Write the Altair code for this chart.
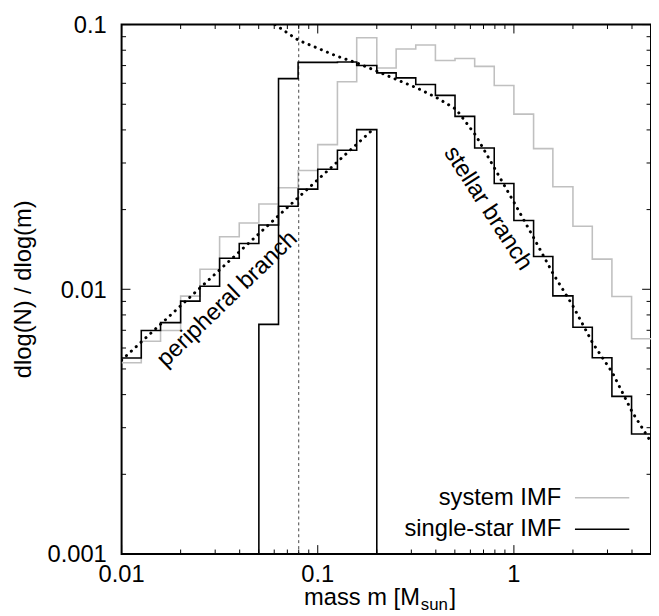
import altair as alt
import pandas as pd

# ---------------- data ----------------
# histogram bin edges in solar masses (0.1 dex bins)
bin_edges = [0.01, 0.0126, 0.0158, 0.02, 0.0251, 0.0316, 0.0398, 0.0501, 0.0631, 0.0794,
             0.1, 0.126, 0.158, 0.2, 0.251, 0.316, 0.398, 0.501, 0.631, 0.794,
             1.0, 1.26, 1.58, 2.0, 2.51, 3.16, 3.98, 5.01]

# system IMF (grey), 27 bins starting at 0.01
system_imf = [0.00528, 0.00636, 0.00699, 0.00942, 0.0119, 0.0158, 0.0178, 0.0210, 0.0242,
              0.0281, 0.0352, 0.0608, 0.0892, 0.0685, 0.0809, 0.0837, 0.0732, 0.0745,
              0.0695, 0.0589, 0.0459, 0.0340, 0.0244, 0.0173, 0.0130, 0.00939, 0.00650]

# single-star IMF, peripheral (brown-dwarf) part: 13 bins from 0.01 to 0.2
single_peripheral = [0.00550, 0.00699, 0.00748, 0.00902, 0.01026, 0.0131, 0.0149, 0.0175,
                     0.0206, 0.0239, 0.0284, 0.0335, 0.0401]
peripheral_first_edge = 0  # index into bin_edges

# single-star IMF, stellar part: 20 bins from 0.05 to 5
single_stellar = [0.00737, 0.0625, 0.0720, 0.0720, 0.0722, 0.0701, 0.0657, 0.0629, 0.0594,
                  0.0540, 0.0450, 0.0342, 0.0251, 0.0182, 0.0133, 0.00944, 0.00719,
                  0.00551, 0.00394, 0.00284]
stellar_first_edge = 7

# dotted analytic branches
stellar_fit_m = [0.0605, 0.0794, 0.124, 0.159, 0.201, 0.253, 0.319, 0.403, 0.507, 0.640,
                 0.798, 1.005, 1.259, 1.585, 2.0, 2.52, 3.18, 4.01, 5.0]
stellar_fit_v = [0.100, 0.0874, 0.0762, 0.0715, 0.0666, 0.0619, 0.0577, 0.0530, 0.0479,
                 0.0381, 0.0286, 0.0212, 0.0157, 0.01145, 0.00865, 0.00627, 0.00484,
                 0.00344, 0.00265]
peripheral_fit_m = [0.01, 0.08, 0.19]
peripheral_fit_v = [0.0054, 0.0223, 0.0400]

hydrogen_burning_limit = [0.08]

x_major = [0.01, 0.1, 1]
x_major_labels = ["0.01", "0.1", "1"]
x_minor = [0.02, 0.03, 0.04, 0.05, 0.06, 0.07, 0.08, 0.09,
           0.2, 0.3, 0.4, 0.5, 0.6, 0.7, 0.8, 0.9, 2, 3, 4]
y_major = [0.001, 0.01, 0.1]
y_major_labels = ["0.001", "0.01", "0.1"]
y_minor = [0.002, 0.003, 0.004, 0.005, 0.006, 0.007, 0.008, 0.009,
           0.02, 0.03, 0.04, 0.05, 0.06, 0.07, 0.08, 0.09]

labels = ["peripheral branch", "stellar branch"]
label_m = [0.0346, 0.738]
label_v = [0.00918, 0.0202]
label_angle = [316, 57]

FLOOR = 0.0005  # below the visible range, used for vertical drops (clipped)

# ---------------- build tables ----------------
def step_rows(edges, vals, first, name, start_floor=False, end_floor=False):
    rows = []
    if start_floor:
        rows.append((edges[first], FLOOR))
    for i, v in enumerate(vals):
        rows.append((edges[first + i], v))
        rows.append((edges[first + i + 1], v))
    if end_floor:
        rows.append((edges[first + len(vals)], FLOOR))
    return pd.DataFrame([{"m": m, "v": v, "series": name, "o": k} for k, (m, v) in enumerate(rows)])

sys_df = step_rows(bin_edges, system_imf, 0, "system")
single_df = pd.concat([
    step_rows(bin_edges, single_peripheral, peripheral_first_edge, "peripheral", end_floor=True),
    step_rows(bin_edges, single_stellar, stellar_first_edge, "stellar", start_floor=True),
])
fit_df = pd.concat([
    pd.DataFrame({"m": stellar_fit_m, "v": stellar_fit_v, "series": "stellar",
                  "o": range(len(stellar_fit_m))}),
    pd.DataFrame({"m": peripheral_fit_m, "v": peripheral_fit_v, "series": "peripheral",
                  "o": range(len(peripheral_fit_m))}),
])
lab_df = pd.DataFrame({"m": label_m, "v": label_v, "t": labels, "a": label_angle})

W = 536
H = 536
FONT = "Liberation Sans"
FS = 24
GREY = "#c0c0c0"

xs = alt.Scale(type="log", domain=[0.01, 5], nice=False)
ys = alt.Scale(type="log", domain=[0.001, 0.1], nice=False)

def X(field="m"):
    return alt.X(f"{field}:Q", scale=xs, axis=None)

def Y(field="v"):
    return alt.Y(f"{field}:Q", scale=ys, axis=None)

one = pd.DataFrame({"k": [0]})

system_line = alt.Chart(sys_df).mark_line(color=GREY, strokeWidth=1.6, clip=True).encode(
    x=X(), y=Y(), order="o:Q")

single_line = alt.Chart(single_df).mark_line(color="black", strokeWidth=1.6, clip=True).encode(
    x=X(), y=Y(), detail="series:N", order="o:Q")

fit_line = alt.Chart(fit_df).mark_line(color="black", strokeWidth=3, strokeDash=[0.1, 6.6],
                                       strokeCap="round", clip=True).encode(
    x=X(), y=Y(), detail="series:N", order="o:Q")

hbl = alt.Chart(pd.DataFrame({"m": hydrogen_burning_limit})).mark_rule(
    color="#444444", strokeWidth=1, strokeDash=[3, 3]).encode(x=X())

branch_text = alt.Chart(lab_df).mark_text(font=FONT, fontSize=FS, color="black",
                                          align="center", baseline="middle").encode(
    x=X(), y=Y(), text="t:N", angle=alt.Angle("a:Q", scale=None))

def xticks(vals, length):
    d = pd.DataFrame({"m": vals})
    bottom = alt.Chart(d).mark_rule(color="black", strokeWidth=1).encode(
        x=X(), y=alt.value(H), y2=alt.value(H - length))
    top = alt.Chart(d).mark_rule(color="black", strokeWidth=1).encode(
        x=X(), y=alt.value(0), y2=alt.value(length))
    return [bottom, top]

def yticks(vals, length):
    d = pd.DataFrame({"v": vals})
    left = alt.Chart(d).mark_rule(color="black", strokeWidth=1).encode(
        y=Y(), x=alt.value(0), x2=alt.value(length))
    right = alt.Chart(d).mark_rule(color="black", strokeWidth=1).encode(
        y=Y(), x=alt.value(W), x2=alt.value(W - length))
    return [left, right]

tick_layers = xticks(x_major, 9) + xticks(x_minor, 4.5) + yticks(y_major, 9) + yticks(y_minor, 4.5)

# tick labels
xlab = alt.Chart(pd.DataFrame({"m": x_major, "t": x_major_labels})).mark_text(
    font=FONT, fontSize=FS, color="black", align="center", baseline="alphabetic").encode(
    x=X(), y=alt.value(H + 28), text="t:N")
ylab = alt.Chart(pd.DataFrame({"v": y_major, "t": y_major_labels})).mark_text(
    font=FONT, fontSize=FS, color="black", align="right", baseline="alphabetic", dy=8.5).encode(
    y=Y(), x=alt.value(-15), text="t:N")

# legend (label left, sample line right, as in the reference)
leg_sys_t = alt.Chart(one).mark_text(text="system IMF", font=FONT, fontSize=FS, align="right",
                                     baseline="middle", color="black").encode(
    x=alt.value(445), y=alt.value(479))
leg_sys_l = alt.Chart(one).mark_rule(color=GREY, strokeWidth=1.6).encode(
    x=alt.value(459), x2=alt.value(514), y=alt.value(479))
leg_one_t = alt.Chart(one).mark_text(text="single-star IMF", font=FONT, fontSize=FS, align="right",
                                     baseline="middle", color="black").encode(
    x=alt.value(445), y=alt.value(511))
leg_one_l = alt.Chart(one).mark_rule(color="black", strokeWidth=1.6).encode(
    x=alt.value(459), x2=alt.value(514), y=alt.value(511))

# axis titles
ytitle = alt.Chart(one).mark_text(text="dlog(N) / dlog(m)", font=FONT, fontSize=FS, angle=270,
                                  align="center", baseline="middle", color="black").encode(
    x=alt.value(-99), y=alt.value(H / 2))
xt1 = alt.Chart(one).mark_text(text="mass m [M", font=FONT, fontSize=FS, align="right",
                               baseline="alphabetic", color="black").encode(
    x=alt.value(302), y=alt.value(588))
xt2 = alt.Chart(one).mark_text(text="sun", font=FONT, fontSize=17, align="left",
                               baseline="alphabetic", color="black").encode(
    x=alt.value(303), y=alt.value(593))
xt3 = alt.Chart(one).mark_text(text="]", font=FONT, fontSize=FS, align="left",
                               baseline="alphabetic", color="black").encode(
    x=alt.value(332), y=alt.value(588))

chart = alt.layer(
    system_line, hbl, single_line, fit_line, branch_text,
    *tick_layers, xlab, ylab,
    leg_sys_t, leg_sys_l, leg_one_t, leg_one_l,
    ytitle, xt1, xt2, xt3,
).properties(
    width=W, height=H,
    autosize=alt.AutoSizeParams(type="none"),
    padding={"left": 115, "top": 13, "right": 0, "bottom": 59},
    background="white",
).configure_view(stroke="black", strokeWidth=2)

chart.save("out.html", embed_options={"renderer": "svg", "actions": False})
